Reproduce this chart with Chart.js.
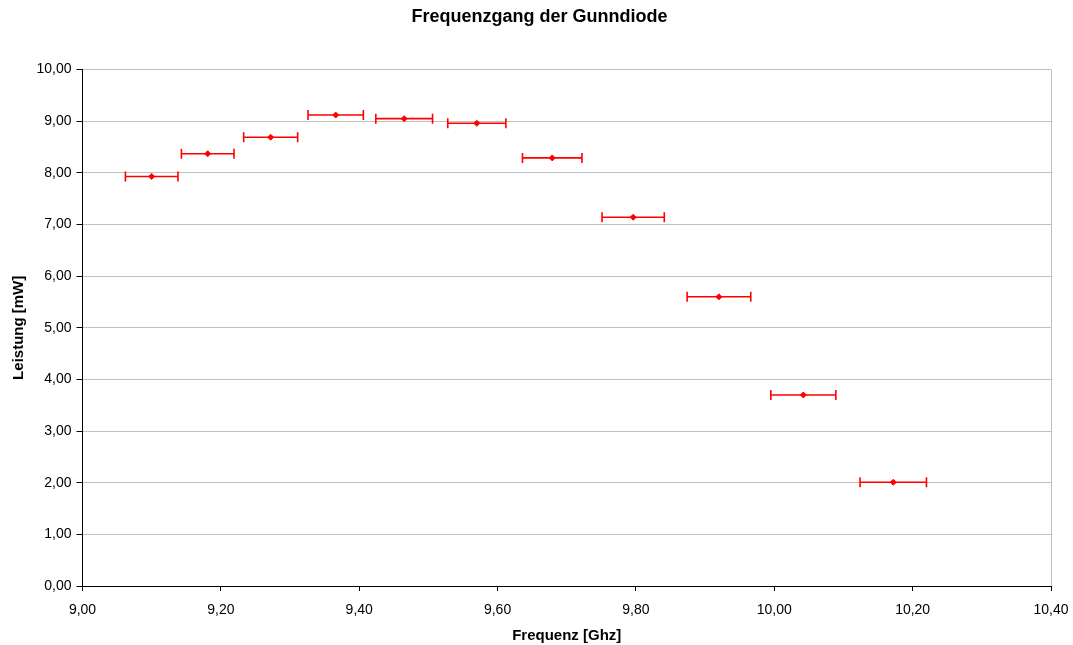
<!DOCTYPE html>
<html>
<head>
<meta charset="utf-8">
<title>Frequenzgang der Gunndiode</title>
<script src="https://cdn.jsdelivr.net/npm/chart.js@4"></script>
<style>
  html, body { margin: 0; padding: 0; background: #fff; }
  #wrap { width: 1073px; height: 645px; }
</style>
</head>
<body>
<div id="wrap"><canvas id="chart"></canvas></div>
<script>
var freq = [9.100, 9.181, 9.272, 9.366, 9.465, 9.570, 9.679, 9.796, 9.920, 10.042, 10.172];
var power = [7.93, 8.37, 8.69, 9.12, 9.05, 8.96, 8.29, 7.14, 5.60, 3.70, 2.01];
var freqErr = [0.038, 0.038, 0.039, 0.040, 0.041, 0.042, 0.043, 0.045, 0.046, 0.047, 0.048];

var xTicks = [9.0, 9.2, 9.4, 9.6, 9.8, 10.0, 10.2, 10.4];
var yTicks = [0, 1, 2, 3, 4, 5, 6, 7, 8, 9, 10];

var fontFamily = '"Liberation Sans", Arial, sans-serif';
var red = '#ff0000';

function fmt(v) {
    return Number(v).toFixed(2).replace('.', ',');
}

var points = freq.map(function (f, i) { return { x: f, y: power[i] }; });

// one small dataset per horizontal error bar
var errorBars = freq.map(function (f, i) {
    return {
        data: [{ x: f - freqErr[i], y: power[i] }, { x: f + freqErr[i], y: power[i] }],
        showLine: true,
        borderColor: red,
        borderWidth: 1.6,
        pointStyle: 'line',
        pointRotation: 90,
        pointRadius: 5,
        pointBorderWidth: 1.6,
        pointBorderColor: red,
        pointBackgroundColor: red
    };
});

var datasets = errorBars.concat([{
    data: points,
    showLine: false,
    pointStyle: 'rectRot',
    pointRadius: 3,
    pointBorderWidth: 1,
    pointBorderColor: red,
    pointBackgroundColor: red
}]);

new Chart(document.getElementById('chart'), {
    type: 'scatter',
    data: { datasets: datasets },
    options: {
        responsive: true,
        maintainAspectRatio: false,
        animation: false,
        layout: { padding: { left: 28, right: 22, top: 0, bottom: 0 } },
        plugins: {
            legend: { display: false },
            tooltip: { enabled: false },
            title: {
                display: true,
                text: 'Frequenzgang der Gunndiode',
                color: '#000',
                font: { family: fontFamily, size: 18, weight: 'bold' },
                padding: { top: 6, bottom: 42 }
            }
        },
        scales: {
            x: {
                type: 'linear',
                min: 9.0,
                max: 10.4,
                afterBuildTicks: function (scale) {
                    scale.ticks = xTicks.map(function (v) { return { value: v }; });
                },
                afterFit: function (scale) {
                    scale.height = 59;
                    scale.paddingLeft = 0;
                    scale.paddingRight = 0;
                },
                ticks: {
                    autoSkip: false,
                    maxRotation: 0,
                    padding: 11,
                    color: '#000',
                    font: { family: fontFamily, size: 14 },
                    callback: function (v) { return fmt(v); }
                },
                grid: {
                    drawOnChartArea: true,
                    color: function (c) {
                        return c.index === xTicks.length - 1 ? '#c0c0c0' : 'rgba(0,0,0,0)';
                    },
                    tickColor: '#000',
                    tickLength: 5
                },
                border: { color: '#000', width: 1 },
                title: {
                    display: true,
                    text: 'Frequenz [Ghz]',
                    color: '#000',
                    font: { family: fontFamily, size: 15, weight: 'bold' },
                    padding: { top: 0, bottom: 0 }
                }
            },
            y: {
                type: 'linear',
                min: 0,
                max: 10,
                afterBuildTicks: function (scale) {
                    scale.ticks = yTicks.map(function (v) { return { value: v }; });
                },
                afterFit: function (scale) { scale.width = 54.5; },
                ticks: {
                    padding: 5,
                    color: '#000',
                    font: { family: fontFamily, size: 14 },
                    callback: function (v) { return fmt(v); }
                },
                grid: {
                    color: '#c0c0c0',
                    tickColor: '#000',
                    tickLength: 6
                },
                border: { color: '#000', width: 1 },
                title: {
                    display: true,
                    text: 'Leistung [mW]',
                    color: '#000',
                    font: { family: fontFamily, size: 15, weight: 'bold' },
                    padding: { top: -18, bottom: 0 }
                }
            }
        }
    }
});
</script>
</body>
</html>
